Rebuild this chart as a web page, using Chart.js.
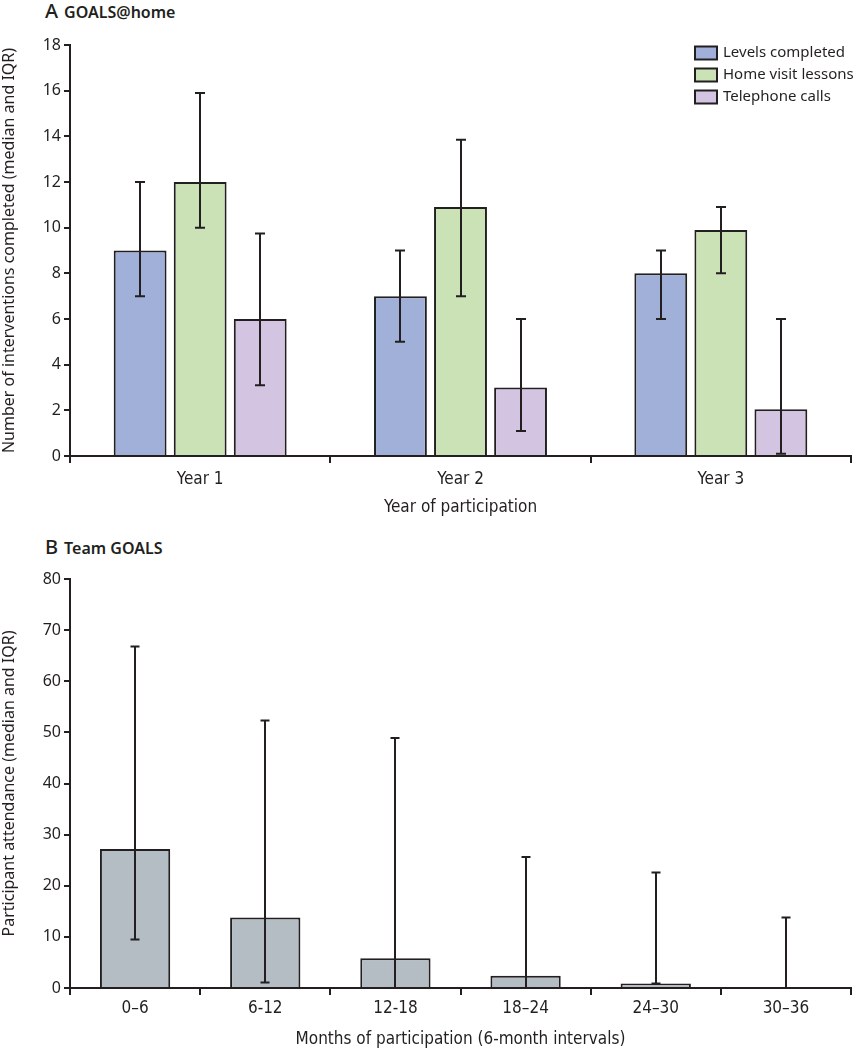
<!DOCTYPE html>
<html>
<head>
<meta charset="utf-8">
<script src="https://cdn.jsdelivr.net/npm/chart.js@4.4.1/dist/chart.umd.min.js"></script>
<style>
  html, body { margin: 0; padding: 0; background: #fff; }
  body { width: 855px; height: 1050px; position: relative; overflow: hidden; font-family: 'Noto Sans', sans-serif; color: #231f20; }
  .panel { position: absolute; left: 0; width: 855px; height: 525px; }
  .ptitle { position: absolute; font-family: 'Noto Sans', sans-serif; color: #231f20; white-space: nowrap; line-height: 24px; }
  .ptitle .letter { font-size: 20px; font-weight: 500; margin-right: 6px; }
  .ptitle .name { font-size: 16px; font-weight: 600; }
</style>
</head>
<body>
<div class="ptitle" style="left:45px; top:-1px;"><span class="letter">A</span><span class="name">GOALS@home</span></div>
<div class="ptitle" style="left:45px; top:535px;"><span class="letter">B</span><span class="name">Team GOALS</span></div>
<div class="panel" style="top:0px;"><canvas id="chartA" width="855" height="525"></canvas></div>
<div class="panel" style="top:525px;"><canvas id="chartB" width="855" height="525"></canvas></div>
<script>
// ---------- Panel A data ----------
const years = ['Year 1', 'Year 2', 'Year 3'];
const levelsMedian = [9, 7, 8];
const levelsLow = [7, 5, 6];
const levelsHigh = [12, 9, 9];
const homeMedian = [12, 10.9, 9.9];
const homeLow = [10, 7, 8];
const homeHigh = [15.9, 13.85, 10.9];
const phoneMedian = [6, 3, 2.05];
const phoneLow = [3.1, 1.1, 0.1];
const phoneHigh = [9.75, 6, 6];
const yTicksA = [0, 2, 4, 6, 8, 10, 12, 14, 16, 18];

// ---------- Panel B data ----------
const months = ['0–6', '6-12', '12-18', '18–24', '24–30', '30–36'];
const attendMedian = [27.2, 13.8, 5.8, 2.4, 0.9, 0];
const attendLow = [9.5, 1.1, 0, 0, 0.9, 0];
const attendHigh = [66.8, 52.3, 48.9, 25.6, 22.6, 13.8];
const yTicksB = [0, 10, 20, 30, 40, 50, 60, 70, 80];

const INK = '#231f20';
const NUM_FONT = { family: "'Noto Sans', sans-serif", size: 16 };
const NARROW_FONT = { family: "'Liberation Sans Narrow', 'DejaVu Sans Condensed', sans-serif", size: 17 };

const errorBars = {
  id: 'errorBars',
  afterDatasetsDraw(chart, args, opts) {
    const ctx = chart.ctx;
    const y = chart.scales.y;
    ctx.save();
    ctx.strokeStyle = INK;
    ctx.lineWidth = 2;
    chart.data.datasets.forEach((ds, di) => {
      const meta = chart.getDatasetMeta(di);
      meta.data.forEach((el, i) => {
        const x = Math.round(el.x);
        const yl = y.getPixelForValue(ds.errLow[i]);
        const yh = y.getPixelForValue(ds.errHigh[i]);
        const c = opts.cap;
        ctx.beginPath();
        ctx.moveTo(x, yl); ctx.lineTo(x, yh);
        ctx.moveTo(x - c, yh); ctx.lineTo(x + c, yh);
        ctx.moveTo(x - c, yl); ctx.lineTo(x + c, yl);
        ctx.stroke();
      });
    });
    ctx.restore();
  }
};

const customLegend = {
  id: 'customLegend',
  afterDraw(chart, args, opts) {
    if (!opts.show) return;
    const ctx = chart.ctx;
    ctx.save();
    ctx.font = "15px 'Noto Sans', sans-serif";
    ctx.textBaseline = 'middle';
    chart.data.datasets.forEach((ds, i) => {
      const cy = opts.y + i * opts.gap;
      ctx.fillStyle = ds.backgroundColor;
      ctx.fillRect(opts.x, cy - 6.5, 22, 13);
      ctx.strokeStyle = INK;
      ctx.lineWidth = 2;
      ctx.strokeRect(opts.x, cy - 6.5, 22, 13);
      ctx.fillStyle = INK;
      ctx.fillText(ds.label, opts.x + 28, cy);
    });
    ctx.restore();
  }
};

function yScale(ticks, title, maxV, step) {
  return {
    min: 0, max: maxV,
    afterFit(s) { s.width = 70; },
    afterBuildTicks(s) { s.ticks = ticks.map(v => ({ value: v })); },
    border: { display: true, color: INK, width: 2 },
    grid: { drawOnChartArea: false, drawTicks: true, tickLength: 6, color: INK, lineWidth: 2 },
    ticks: { color: INK, font: NUM_FONT, padding: 3, stepSize: step },
    title: { display: true, text: title, color: INK, font: { family: "'Noto Sans', sans-serif", size: 16 }, padding: { top: 0, bottom: 0 } }
  };
}

function xScale(title, h, tickPad, titlePadBottom) {
  return {
    offset: true,
    afterFit(s) { s.height = h; },
    border: { display: true, color: INK, width: 2 },
    grid: { drawOnChartArea: false, drawTicks: true, tickLength: 7, color: INK, lineWidth: 2, offset: true },
    ticks: { color: INK, font: NARROW_FONT, padding: tickPad, maxRotation: 0 },
    title: { display: true, text: title, color: INK, font: NARROW_FONT, padding: { top: 0, bottom: titlePadBottom } }
  };
}

Chart.defaults.animation = false;

new Chart(document.getElementById('chartA'), {
  type: 'bar',
  data: {
    labels: years,
    datasets: [
      { label: 'Levels completed', data: levelsMedian, errLow: levelsLow, errHigh: levelsHigh, backgroundColor: '#a1b0d8' },
      { label: 'Home visit lessons', data: homeMedian, errLow: homeLow, errHigh: homeHigh, backgroundColor: '#cbe1b6' },
      { label: 'Telephone calls', data: phoneMedian, errLow: phoneLow, errHigh: phoneHigh, backgroundColor: '#d3c5e2' }
    ].map(d => Object.assign(d, { borderColor: INK, borderWidth: 2, categoryPercentage: 0.692, barPercentage: 0.88 }))
  },
  options: {
    responsive: false,
    animation: false,
    layout: { padding: { top: 45, right: 4, left: 0, bottom: 0 } },
    plugins: {
      legend: { display: false },
      tooltip: { enabled: false },
      errorBars: { cap: 5 },
      customLegend: { show: true, x: 695, y: 53, gap: 22 }
    },
    scales: {
      x: xScale('Year of participation', 69, 6, 7),
      y: yScale(yTicksA, 'Number of interventions completed (median and IQR)', 18, 2)
    }
  },
  plugins: [errorBars, customLegend]
});

new Chart(document.getElementById('chartB'), {
  type: 'bar',
  data: {
    labels: months,
    datasets: [
      { label: 'Participant attendance', data: attendMedian, errLow: attendLow, errHigh: attendHigh, backgroundColor: '#b5bdc4', borderColor: INK, borderWidth: 2, categoryPercentage: 1, barPercentage: 0.54 }
    ]
  },
  options: {
    responsive: false,
    animation: false,
    layout: { padding: { top: 54, right: 4, left: 0, bottom: 0 } },
    plugins: {
      legend: { display: false },
      tooltip: { enabled: false },
      errorBars: { cap: 4.5 },
      customLegend: { show: false }
    },
    scales: {
      x: xScale('Months of participation (6-month intervals)', 62, 3, 0),
      y: yScale(yTicksB, 'Participant attendance (median and IQR)', 80, 10)
    }
  },
  plugins: [errorBars, customLegend]
});
</script>
</body>
</html>
